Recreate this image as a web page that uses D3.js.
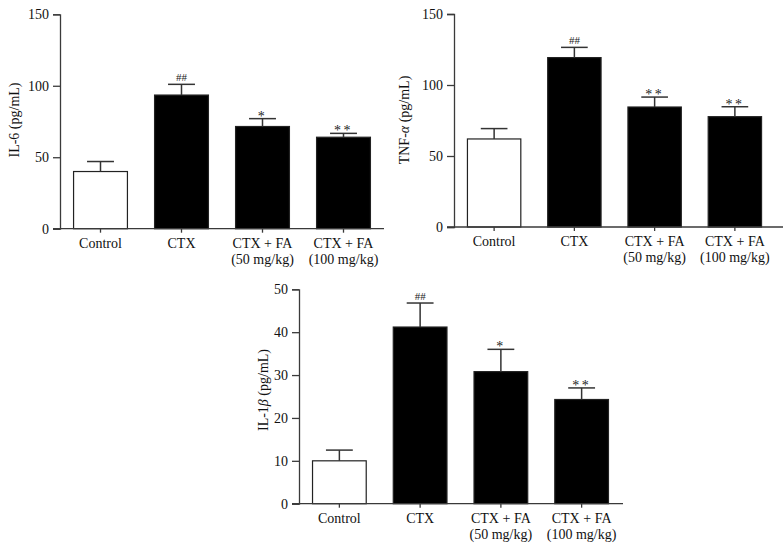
<!DOCTYPE html>
<html><head><meta charset="utf-8">
<script src="https://cdn.jsdelivr.net/npm/d3@7"></script>
<style>
body{margin:0;background:#fff;}
svg{display:block;font-family:"Liberation Serif","Times New Roman",serif;}
</style></head>
<body><svg id="c" width="784" height="549"></svg>
<script>
const categories = ["Control","CTX","CTX + FA","CTX + FA"];
const categorySub = ["","","(50 mg/kg)","(100 mg/kg)"];
const fills = ["#fff","#000","#000","#000"];

const il6Mean = [40, 93.5, 71.5, 64];
const il6Sem  = [7, 7.5, 5.5, 2.7];
const il6Sig  = ["", "##", "*", "**"];

const tnfMean = [62, 119.3, 84.5, 77.7];
const tnfSem  = [7.3, 7.2, 7, 7];
const tnfSig  = ["", "##", "**", "**"];

const il1bMean = [10, 41.2, 30.8, 24.3];
const il1bSem  = [2.5, 5.6, 5.2, 2.7];
const il1bSig  = ["", "##", "*", "**"];

const ticks150 = [0, 50, 100, 150];
const ticks50 = [0, 10, 20, 30, 40, 50];

const panels = [
  {mean: il6Mean, sem: il6Sem, sig: il6Sig, ticks: ticks150, max: 150,
   x0: 60, x1: 384, yT: 14.3, yB: 228.7, axisEnd: 384, label: [["IL-6 (pg/mL)", false]], lx: 14, ly: 120},
  {mean: tnfMean, sem: tnfSem, sig: tnfSig, ticks: ticks150, max: 150,
   x0: 454, x1: 775, yT: 14, yB: 227, axisEnd: 783, label: [["TNF-", false], ["α", true], [" (pg/mL)", false]], lx: 404, ly: 120},
  {mean: il1bMean, sem: il1bSem, sig: il1bSig, ticks: ticks50, max: 50,
   x0: 299, x1: 622, yT: 289.3, yB: 503.7, axisEnd: 623, label: [["IL-1", false], ["β", true], [" (pg/mL)", false]], lx: 263, ly: 390}
];

const svg = d3.select("#c");
const axisColor = "#3a3a3a";
const fs = 14;

panels.forEach(p => {
  const g = svg.append("g");
  const x = d3.scaleBand().domain(d3.range(4)).range([p.x0, p.x1]).paddingInner(0.335).paddingOuter(0.1675);
  const y = d3.scaleLinear().domain([0, p.max]).range([p.yB, p.yT]);

  const ya = g.append("g").attr("transform", `translate(${p.x0},0)`)
    .call(d3.axisLeft(y).tickValues(p.ticks).tickSize(7).tickPadding(4));
  ya.select(".domain").attr("stroke", axisColor).attr("stroke-width", 1.3);
  ya.selectAll(".tick line").attr("stroke", axisColor).attr("stroke-width", 1.3);
  ya.selectAll(".tick text").attr("font-family", "Liberation Serif, serif").attr("font-size", fs).attr("fill", "#111");

  g.selectAll("rect.bar").data(p.mean).join("rect")
    .attr("x", (d, i) => x(i)).attr("width", x.bandwidth())
    .attr("y", d => y(d)).attr("height", d => y(0) - y(d))
    .attr("fill", (d, i) => fills[i]).attr("stroke", "#222").attr("stroke-width", 1.2);

  const cx = i => x(i) + x.bandwidth() / 2;
  const capW = x.bandwidth() / 2;
  p.mean.forEach((m, i) => {
    const top = y(m + p.sem[i]);
    g.append("line").attr("x1", cx(i)).attr("x2", cx(i)).attr("y1", y(m)).attr("y2", top)
      .attr("stroke", "#333").attr("stroke-width", 1.5);
    g.append("line").attr("x1", cx(i) - capW / 2).attr("x2", cx(i) + capW / 2).attr("y1", top).attr("y2", top)
      .attr("stroke", "#333").attr("stroke-width", 1.5);
    if (p.sig[i]) {
      const isHash = p.sig[i].startsWith("#");
      g.append("text").attr("x", cx(i)).attr("y", isHash ? top - 3 : top + 2)
        .attr("text-anchor", "middle").attr("font-size", isHash ? 11 : 14)
        .attr("letter-spacing", isHash ? 0 : 2.5).attr("fill", "#222")
        .text(p.sig[i]);
    }
  });

  const xa = g.append("g").attr("transform", `translate(0,${p.yB})`)
    .call(d3.axisBottom(x).tickSize(4).tickSizeOuter(0).tickFormat(""));
  xa.select(".domain").remove();
  xa.selectAll(".tick line").attr("stroke", axisColor).attr("stroke-width", 1.3);
  g.append("line").attr("x1", p.x0 - 7).attr("x2", p.axisEnd).attr("y1", p.yB).attr("y2", p.yB)
    .attr("stroke", axisColor).attr("stroke-width", 1.3);

  categories.forEach((c, i) => {
    const t = g.append("text").attr("x", cx(i)).attr("y", p.yB + 19)
      .attr("text-anchor", "middle").attr("font-size", fs).attr("fill", "#111");
    t.append("tspan").attr("x", cx(i)).text(c);
    if (categorySub[i]) t.append("tspan").attr("x", cx(i)).attr("dy", 16).text(categorySub[i]);
  });

  const lt = g.append("text").attr("transform", `translate(${p.lx},${p.ly}) rotate(-90)`)
    .attr("text-anchor", "middle").attr("dy", "0.35em").attr("font-size", fs).attr("fill", "#111");
  p.label.forEach(([s, it]) => lt.append("tspan").attr("font-style", it ? "italic" : "normal").text(s));
});
</script></body></html>
